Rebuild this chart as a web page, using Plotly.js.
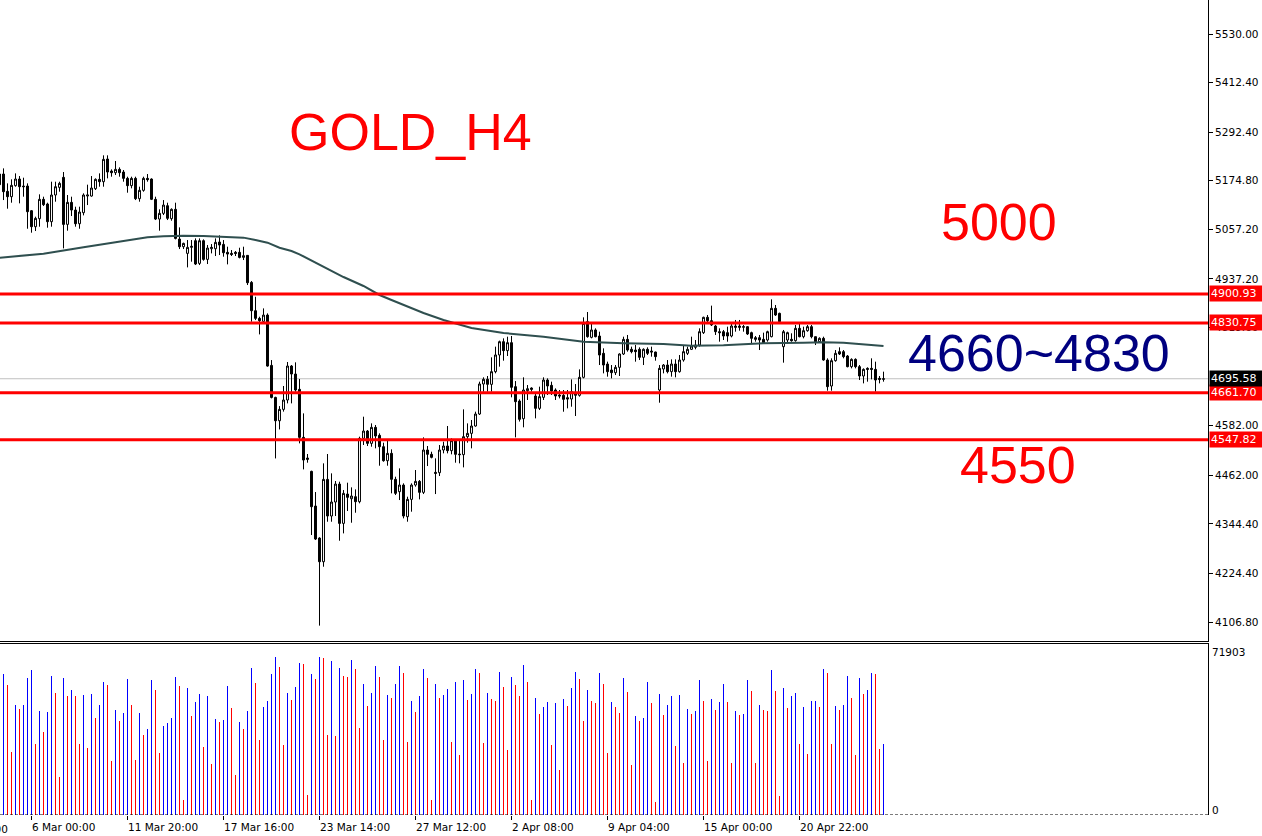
<!DOCTYPE html>
<html><head><meta charset="utf-8">
<script src="https://cdn.plot.ly/plotly-3.0.1.min.js"></script>
<style>html,body{margin:0;padding:0;background:#fff;}#chart{width:1262px;height:836px;}</style>
</head><body><div id="chart"></div>
<script>
// OHLC of the H4 bars (first value = partially visible bar at the left edge)
const openP = [5191.1,
 5191.1,5149.1,5136.2,5162.9,5179.0,5162.0,5162.0,5102.3,5063.6,5083.0,
 5129.8,5118.5,5075.7,5140.3,5158.8,5183.0,5069.2,5122.5,5103.9,5070.8,
 5097.5,5137.8,5137.8,5155.6,5178.2,5172.5,5227.4,5198.4,5194.3,5202.4,
 5195.9,5180.6,5162.9,5180.6,5131.4,5151.6,5180.6,5179.0,5129.8,5082.1,
 5095.9,5114.4,5083.0,5105.6,5033.7,5015.2,4999.0,5013.6,5029.7,4974.8,
 5029.7,4984.5,5010.3,5010.3,5026.5,5020.8,5001.5,4999.0,5001.5,5001.5,
 4989.3,4994.2,4928.8,4860.2,4841.7,4834.4,4849.7,4727.9,4650.4,4593.9,
 4621.4,4644.1,4726.4,4707.0,4669.9,4553.7,4503.7,4471.4,4387.5,4310.0,
 4252.7,4452.0,4363.3,4397.2,4440.7,4345.5,4416.5,4405.2,4410.1,4398.0,
 4551.3,4569.0,4539.2,4577.9,4558.6,4531.1,4497.2,4515.0,4452.1,4422.2,
 4438.3,4361.7,4403.6,4438.3,4447.2,4420.6,4523.1,4512.6,4469.0,4468.2,
 4523.1,4532.8,4521.5,4545.7,4513.4,4511.8,4555.3,4563.4,4581.2,4610.2,
 4682.9,4694.2,4682.0,4712.7,4753.1,4785.3,4763.6,4782.9,4676.4,4641.7,
 4598.9,4666.7,4673.1,4653.8,4623.9,4650.5,4692.5,4679.6,4668.3,4656.2,
 4655.4,4649.7,4646.5,4655.4,4655.4,4699.0,4833.7,4795.8,4813.6,4799.0,
 4757.1,4731.2,4716.7,4710.3,4723.2,4755.5,4790.9,4766.8,4765.1,4766.8,
 4747.4,4766.8,4762.7,4760.3,4668.3,4719.1,4728.8,4712.7,4731.2,4712.7,
 4740.9,4757.1,4766.8,4771.6,4777.2,4807.1,4844.2,4836.1,4823.2,4809.5,
 4809.5,4807.1,4799.0,4823.2,4823.2,4820.0,4821.6,4807.1,4795.0,4795.0,
 4791.0,4789.3,4797.4,4866.0,4853.9,4773.2,4789.3,4791.0,4787.7,4817.6,
 4797.4,4811.9,4821.6,4797.4,4785.3,4793.4,4740.9,4678.0,4739.3,4761.1,
 4761.1,4750.6,4724.8,4742.5,4724.8,4702.2,4720.7,4720.7,4718.3,4696.5,4694.1];
const highP = [5200.8,
 5204.8,5168.5,5178.2,5192.7,5186.2,5182.2,5168.5,5103.9,5087.8,5141.9,
 5136.2,5121.7,5172.5,5172.5,5172.5,5195.9,5140.3,5136.2,5112.0,5112.0,
 5144.3,5165.3,5186.2,5180.6,5192.7,5236.3,5236.3,5202.4,5222.6,5207.2,
 5200.8,5184.6,5184.6,5184.6,5160.4,5184.6,5191.1,5180.6,5136.2,5105.6,
 5128.1,5121.7,5108.0,5121.7,5062.0,5024.9,5031.3,5031.3,5035.3,5035.3,
 5032.9,5019.2,5021.6,5035.3,5042.6,5031.3,5015.2,5007.1,5004.7,5012.7,
 5015.2,4995.0,4932.0,4894.1,4845.7,4865.9,4853.8,4740.8,4652.0,4629.4,
 4678.0,4736.1,4728.8,4735.3,4694.9,4611.8,4513.4,4473.0,4421.4,4312.0,
 4490.8,4513.4,4466.6,4448.0,4446.4,4426.2,4444.0,4432.7,4427.8,4555.3,
 4603.7,4571.5,4587.6,4583.6,4563.4,4540.8,4545.6,4524.7,4458.5,4478.7,
 4442.4,4410.1,4442.4,4474.7,4450.4,4553.7,4532.8,4519.0,4502.9,4535.2,
 4543.2,4581.2,4551.3,4548.9,4547.3,4621.5,4587.6,4595.7,4615.9,4688.5,
 4699.0,4702.2,4747.4,4773.2,4787.8,4793.4,4797.4,4799.1,4690.0,4645.7,
 4699.0,4680.4,4674.8,4660.2,4676.4,4699.0,4696.5,4688.5,4672.3,4668.3,
 4668.3,4668.3,4694.1,4682.8,4718.3,4844.2,4857.1,4829.7,4817.6,4809.5,
 4769.2,4736.9,4728.8,4728.8,4757.1,4797.4,4801.5,4773.2,4777.2,4771.6,
 4769.2,4771.6,4773.2,4761.1,4728.8,4731.2,4740.9,4742.5,4742.5,4753.0,
 4777.2,4773.2,4797.4,4789.3,4817.6,4845.8,4849.9,4872.5,4825.7,4817.6,
 4813.6,4821.6,4829.7,4837.8,4837.8,4825.7,4823.2,4809.5,4799.0,4801.5,
 4807.1,4811.9,4887.8,4874.1,4855.5,4813.6,4809.5,4805.5,4825.7,4828.1,
 4821.6,4825.7,4825.7,4797.4,4795.8,4797.4,4745.0,4745.0,4765.1,4771.6,
 4765.1,4753.0,4745.0,4745.0,4728.8,4720.7,4723.2,4745.0,4736.9,4702.2,4712.7];
const lowP = [5160.4,
 5128.1,5107.2,5121.7,5160.4,5120.1,5136.2,5058.7,5049.1,5053.1,5063.6,
 5113.6,5061.2,5063.6,5124.1,5148.3,5011.1,5053.9,5089.4,5063.6,5058.7,
 5091.0,5116.0,5136.2,5152.4,5160.4,5160.4,5180.6,5184.6,5188.7,5184.6,
 5172.5,5145.9,5156.4,5128.1,5124.1,5148.3,5172.5,5128.1,5079.7,5053.9,
 5091.8,5079.7,5078.1,5032.9,5009.5,5009.5,4965.1,4978.9,4970.8,4970.8,
 4981.3,4973.2,4999.0,4992.6,4995.0,4991.0,4972.4,4992.6,4992.6,4986.9,
 4982.9,4922.4,4833.6,4837.6,4802.9,4833.6,4724.7,4648.0,4502.7,4572.9,
 4616.0,4636.0,4636.0,4664.3,4539.2,4476.2,4492.4,4317.3,4305.2,4098.0,
 4240.6,4349.5,4349.5,4363.3,4303.5,4321.3,4375.4,4347.1,4371.3,4394.0,
 4535.2,4532.7,4531.1,4527.1,4485.1,4494.8,4485.1,4418.2,4414.1,4402.0,
 4357.6,4349.6,4373.8,4434.3,4403.6,4416.5,4484.3,4502.9,4416.5,4460.1,
 4515.0,4515.0,4512.6,4492.4,4490.8,4481.1,4540.8,4527.1,4579.6,4607.8,
 4664.3,4664.3,4664.3,4708.7,4724.8,4739.3,4750.6,4650.6,4553.7,4592.0,
 4578.0,4644.1,4664.3,4599.7,4619.9,4644.1,4656.2,4656.2,4644.1,4648.1,
 4615.8,4623.9,4627.9,4605.4,4652.2,4696.5,4795.0,4793.4,4795.8,4728.8,
 4708.6,4700.6,4696.5,4704.6,4702.2,4753.0,4761.1,4757.1,4736.9,4740.9,
 4728.8,4753.0,4749.0,4739.3,4637.6,4708.6,4708.6,4700.6,4699.0,4710.3,
 4736.9,4753.0,4765.1,4766.8,4773.2,4803.9,4831.3,4823.2,4801.5,4785.3,
 4789.3,4785.3,4795.8,4809.5,4811.9,4809.5,4801.5,4780.0,4785.3,4765.1,
 4781.3,4785.3,4795.8,4847.5,4831.3,4734.5,4781.3,4785.3,4785.3,4795.8,
 4793.4,4809.5,4793.4,4777.2,4782.9,4739.3,4666.7,4666.7,4736.9,4753.0,
 4745.0,4723.2,4720.7,4720.7,4692.5,4684.4,4688.5,4694.1,4664.3,4684.4,4688.5];
const closeP = [5165.3,
 5148.3,5136.2,5163.7,5179.0,5160.4,5160.4,5099.9,5063.6,5083.8,5129.8,
 5116.9,5075.7,5140.3,5160.4,5168.5,5069.2,5122.5,5103.9,5070.8,5099.1,
 5140.3,5140.3,5157.2,5178.2,5172.5,5226.6,5195.9,5194.3,5202.4,5194.3,
 5180.6,5162.9,5180.6,5131.4,5151.6,5180.6,5177.4,5129.8,5082.1,5095.9,
 5116.0,5083.8,5105.6,5035.3,5015.2,5023.2,5013.6,5016.0,4973.2,5029.7,
 4984.5,5011.9,5013.6,5025.7,5019.2,5000.6,4997.4,4996.6,4999.0,4989.3,
 4993.4,4928.0,4860.2,4841.7,4836.0,4849.7,4726.3,4650.4,4593.9,4621.4,
 4644.1,4726.4,4707.0,4668.3,4553.7,4498.8,4500.5,4385.9,4307.6,4252.7,
 4452.0,4363.3,4397.2,4440.7,4345.5,4418.1,4408.5,4411.7,4398.0,4551.3,
 4569.0,4539.2,4577.9,4556.9,4531.1,4497.2,4515.0,4452.1,4418.2,4438.3,
 4363.3,4403.6,4438.3,4447.2,4420.6,4523.1,4512.6,4505.3,4466.6,4523.1,
 4532.8,4521.5,4545.7,4512.6,4511.8,4555.3,4563.4,4581.2,4610.2,4682.9,
 4694.2,4682.0,4712.7,4753.1,4785.3,4763.6,4782.9,4674.8,4640.1,4597.3,
 4668.3,4671.5,4669.9,4623.9,4652.2,4692.5,4678.0,4665.9,4653.8,4653.8,
 4645.7,4646.5,4664.3,4658.6,4699.0,4829.7,4797.4,4813.6,4797.4,4753.0,
 4728.8,4712.7,4710.3,4723.2,4755.5,4790.9,4765.1,4761.1,4761.1,4747.4,
 4766.8,4757.1,4760.3,4749.0,4720.7,4728.8,4712.7,4731.2,4712.7,4740.9,
 4761.1,4766.8,4774.8,4777.2,4809.5,4844.2,4836.1,4825.7,4809.5,4807.1,
 4799.0,4799.0,4823.2,4820.0,4820.0,4821.6,4803.9,4793.4,4791.0,4789.3,
 4782.9,4809.5,4866.0,4849.9,4833.7,4809.5,4807.1,4787.7,4817.6,4797.4,
 4811.9,4821.6,4797.4,4785.3,4793.4,4740.9,4676.4,4739.3,4757.1,4755.5,
 4749.0,4724.8,4742.5,4724.8,4702.2,4718.3,4718.3,4718.3,4692.5,4694.1,4695.58];
// tick volume per bar (first bar has no visible volume)
const volume = [null,
 64194,59197,28766,49962,48145,49962,62225,65859,32248,47237,
 37699,46783,63134,55564,17411,62225,54201,56775,54201,32248,
 54655,30431,54958,44057,49962,60409,59197,24527,47691,42695,
 46328,61771,49962,24981,46328,36336,38910,61317,56775,28160,
 40424,41786,44057,62680,58592,6813,57683,44966,51325,54958,
 30886,54050,23164,43603,42392,43149,58592,48599,18168,42241,
 39061,47237,66767,59954,34065,49054,51779,64042,71600,67222,
 31794,55564,52233,58138,69038,68584,9084,64042,61771,71903,
 71309,36336,69947,35882,66767,63134,62680,70401,66313,39515,
 59500,49508,55412,67676,62680,34065,54504,53141,59500,67676,
 64496,33157,51779,46783,54050,66313,62225,6813,59500,53141,
 54504,57229,33157,60409,27252,61317,52233,54958,66313,64496,
 32702,55412,52687,51779,64951,58138,29523,62680,59046,54050,
 68130,60409,6813,53141,45874,49054,51325,31794,50870,20439,
 52687,49508,57683,64951,61771,42695,56775,51779,50870,64496,
 59500,28160,51325,49054,46328,62225,55867,22710,44966,42695,
 44057,60409,50870,5905,54958,45420,49962,54050,31340,54504,
 23618,48145,45874,47237,61317,51779,24527,52687,47691,51325,
 59500,51325,23618,47237,45420,45874,61317,56321,23618,49962,
 47691,47300,65859,56321,8630,57683,48599,54050,55412,32248,
 49054,27706,51779,51779,49054,66313,64496,32248,49508,47691,
 49962,63134,53141,27252,62225,54958,56775,64496,64000,29977,32248];
// moving average read at selected bars
const maBar   = [0,1,11,21,31,37,41,46,51,56,61,64,67,70,73,75,81,86,91,95,98,106,111,118,126,136,146,156,166,173,181,191,201,206,211,216,221];
const maValue = [4988.6,4989.5,4998.2,5013.7,5029.7,5037.9,5040.5,5041.8,5041.1,5038.7,5037.1,5031.4,5024.9,5012.7,5004.8,4996.8,4966.0,4941.8,4920.1,4898.3,4886.2,4854.7,4837.8,4818.4,4806.3,4797.4,4785.2,4781.4,4779.7,4775.6,4776.5,4781.4,4782.8,4783.8,4782.8,4779.0,4774.8];
const levels = [4900.93, 4830.75, 4661.70, 4547.82];
const lastPrice = 4695.58;
const priceTicks = [5530.00,5412.40,5292.40,5174.80,5057.20,4937.20,4819.60,4582.00,4462.00,4344.40,4224.40,4106.80];
const volTicks = [0, 71903];
const dateTickBars = [8,32,56,80,104,128,152,176,200];
const dateTickLabels = ["6 Mar 00:00","11 Mar 20:00","17 Mar 16:00","23 Mar 14:00","27 Mar 12:00","2 Apr 08:00","9 Apr 04:00","15 Apr 00:00","20 Apr 22:00"];
const cutDateLabel = "27 Feb 20:00";
const notes = [
  {text:"GOLD_H4", color:"#FF0000", x:0.3402, y:0.838},
  {text:"5000", color:"#FF0000", x:0.8266, y:0.7276},
  {text:"4660~4830", color:"#000080", x:0.8597, y:0.5669},
  {text:"4550", color:"#FF0000", x:0.8427, y:0.4294}
];

const bars = openP.map((_, i) => i);
const volColors = volume.map((v, i) => (i === 0 || volume[i-1] === null || v >= volume[i-1]) ? "#0000FF" : "#FF0000");

const traces = [
  {type:"candlestick", x:bars, open:openP, high:highP, low:lowP, close:closeP,
   xaxis:"x", yaxis:"y", hoverinfo:"skip", showlegend:false, whiskerwidth:0,
   increasing:{line:{color:"#000000", width:1}, fillcolor:"#FFFFFF"},
   decreasing:{line:{color:"#000000", width:1}, fillcolor:"#000000"}},
  {type:"scatter", mode:"lines", x:maBar, y:maValue, xaxis:"x", yaxis:"y",
   line:{color:"#2F4F4F", width:2}, hoverinfo:"skip", showlegend:false},
  {type:"bar", x:bars, y:volume, xaxis:"x", yaxis:"y2", width:0.25,
   marker:{color:volColors, line:{width:0}}, hoverinfo:"skip", showlegend:false}
];

const fontTick = {family:"DejaVu Sans", size:10.5, color:"#000000"};
const fontBox = {family:"DejaVu Sans", size:11, color:"#FFFFFF"};
const shapes = [];
levels.forEach(l => shapes.push({type:"line", xref:"paper", x0:0, x1:1, yref:"y", y0:l, y1:l, line:{color:"#FF0000", width:3}}));
shapes.push({type:"line", layer:"below", xref:"paper", x0:0, x1:1, yref:"y", y0:lastPrice, y1:lastPrice, line:{color:"#C0C0C0", width:1}});
shapes.push({type:"line", xref:"paper", x0:0, x1:1, yref:"y domain", y0:0, y1:0, line:{color:"#000000", width:1}});
shapes.push({type:"line", xref:"paper", x0:0, x1:1, yref:"y2 domain", y0:1, y1:1, line:{color:"#000000", width:1}});
shapes.push({type:"line", xref:"paper", x0:0, x1:1, yref:"y2", y0:0, y1:0, line:{color:"#000000", width:1, dash:"3px,2px"}});

const annotations = [];
levels.forEach(l => annotations.push({xref:"paper", x:1, xanchor:"left", xshift:1, yref:"y", y:l, yanchor:"middle",
  text:l.toFixed(2), showarrow:false, bgcolor:"#FF0000", borderpad:1, width:52, align:"left", font:fontBox}));
annotations.push({xref:"paper", x:1, xanchor:"left", xshift:1, yref:"y", y:lastPrice, yanchor:"middle",
  text:lastPrice.toFixed(2), showarrow:false, bgcolor:"#000000", borderpad:1, width:52, align:"left", font:fontBox});
volTicks.forEach(v => annotations.push({xref:"paper", x:1, xanchor:"left", xshift:2, yref:"y2", y:v, yanchor:"middle", yshift:4.5,
  text:String(v), showarrow:false, font:fontTick}));
notes.forEach(n => annotations.push({xref:"paper", yref:"paper", x:n.x, y:n.y, xanchor:"center", yanchor:"middle",
  text:n.text, showarrow:false, font:{family:"Liberation Sans", size:52, color:n.color}}));
annotations.push({xref:"paper", yref:"paper", x:0, y:-0.0175, xanchor:"right", yanchor:"middle", xshift:10,
  text:cutDateLabel, showarrow:false, font:fontTick});

const layout = {
  width:1262, height:836,
  margin:{l:0, r:54, t:0, b:21, pad:0},
  paper_bgcolor:"#FFFFFF", plot_bgcolor:"#FFFFFF",
  font:fontTick, showlegend:false, bargap:0,
  xaxis:{domain:[0,1], anchor:"y2", range:[0.125, 302.125], showgrid:false, zeroline:false, showline:false,
    ticks:"outside", ticklen:4, tickcolor:"#000000", tickvals:dateTickBars, ticktext:dateTickLabels,
    ticklabelposition:"outside right", ticklabelstandoff:2, tickfont:fontTick, rangeslider:{visible:false}, fixedrange:true},
  yaxis:{domain:[0.21288, 1], anchor:"x", side:"right", range:[4059.6, 5612.29], showgrid:false, zeroline:false,
    showline:true, linecolor:"#000000", linewidth:1, ticks:"outside", ticklen:4, tickcolor:"#000000",
    tickvals:priceTicks, ticktext:priceTicks.map(v => v.toFixed(2)), tickfont:fontTick, fixedrange:true},
  yaxis2:{domain:[0, 0.21043], anchor:"x", side:"right", range:[0, 77895], showgrid:false, zeroline:false,
    showline:true, linecolor:"#000000", linewidth:1, ticks:"", showticklabels:false, fixedrange:true},
  shapes:shapes, annotations:annotations
};
Plotly.newPlot("chart", traces, layout, {staticPlot:true, displayModeBar:false});
</script></body></html>
